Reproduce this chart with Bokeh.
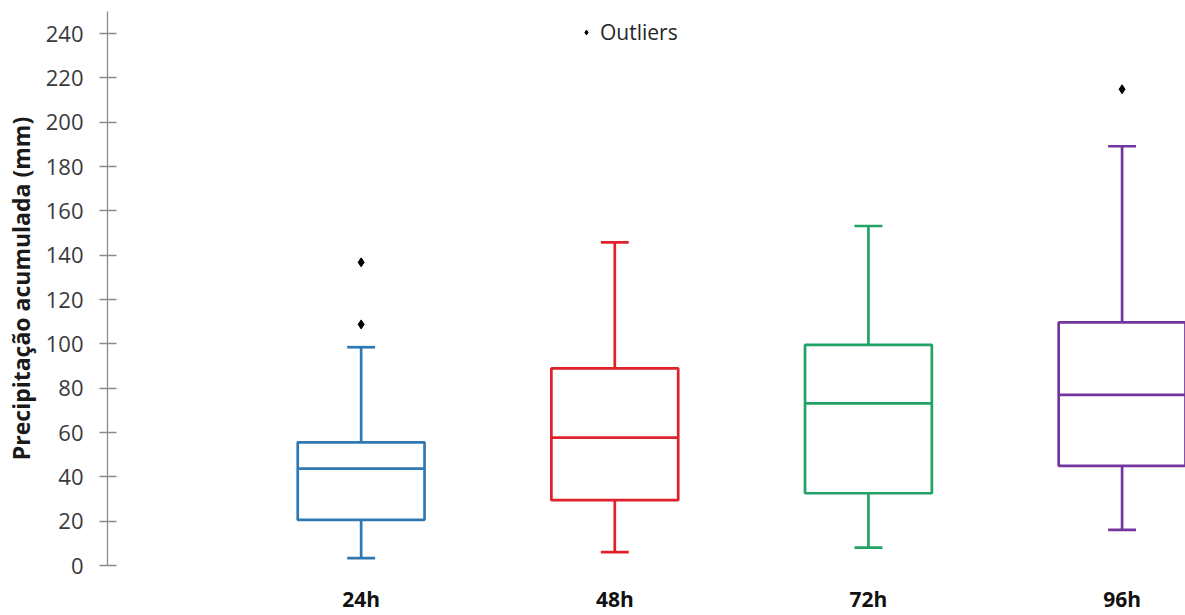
from bokeh.plotting import figure
from bokeh.models import FixedTicker, Legend, LegendItem, ColumnDataSource
from bokeh.embed import file_html
from bokeh.resources import INLINE

categories = ["24h", "48h", "72h", "96h"]
lower_whisker = [3.3, 6.0, 8.1, 16.1]
q1 = [20.6, 29.5, 32.6, 45.0]
median = [43.7, 57.7, 73.2, 77.0]
q3 = [55.6, 89.0, 99.6, 109.7]
upper_whisker = [98.5, 145.8, 153.2, 189.2]
outlier_group = ["24h", "24h", "96h"]
outlier_values = [136.8, 108.8, 214.9]
colors = ["#2E78B4", "#E0202A", "#21A366", "#7336A0"]
y_ticks = list(range(0, 241, 20))

FONT = "Open Sans"
pos = [i + 1 for i in range(len(categories))]
box_half = 0.25
cap_half = 0.055

p = figure(width=1185, height=615, x_range=(0, 4.25), y_range=(0, 250),
           output_backend="svg", toolbar_location=None,
           min_border_left=107, min_border_right=0, min_border_top=11, min_border_bottom=49)
p.outline_line_color = None
p.xgrid.grid_line_color = None
p.ygrid.grid_line_color = None
p.background_fill_color = "white"

src = ColumnDataSource(dict(
    x=pos, left=[x - box_half for x in pos], right=[x + box_half for x in pos],
    cl=[x - cap_half for x in pos], cr=[x + cap_half for x in pos],
    lo=lower_whisker, q1=q1, med=median, q3=q3, hi=upper_whisker, color=colors))

lw = 2.7
p.segment(x0="x", y0="q3", x1="x", y1="hi", line_color="color", line_width=lw, source=src)
p.segment(x0="x", y0="q1", x1="x", y1="lo", line_color="color", line_width=lw, source=src)
p.segment(x0="cl", y0="hi", x1="cr", y1="hi", line_color="color", line_width=lw, source=src)
p.segment(x0="cl", y0="lo", x1="cr", y1="lo", line_color="color", line_width=lw, source=src)
p.quad(left="left", right="right", bottom="q1", top="q3", fill_color="white",
       line_color="color", line_width=lw, source=src)
p.segment(x0="left", y0="med", x1="right", y1="med", line_color="color", line_width=lw, source=src)

ox = [pos[categories.index(g)] for g in outlier_group]
out_r = p.scatter(ox, outlier_values, marker="diamond", size=9, color="black")

legend = Legend(items=[LegendItem(label="Outliers", renderers=[out_r])],
                location=(473, 519), border_line_color=None, background_fill_alpha=0,
                padding=0, margin=0, spacing=0, glyph_width=12, glyph_height=20,
                label_standoff=8, label_text_font=FONT, label_text_font_size="21px",
                label_text_color="#262626", label_height=20)
p.add_layout(legend)

# y axis
ya = p.yaxis[0]
ya.ticker = FixedTicker(ticks=y_ticks)
ya.axis_line_color = "#8C8C8C"
ya.axis_line_width = 1.3
ya.major_tick_line_color = "#8C8C8C"
ya.major_tick_line_width = 1.3
ya.major_tick_in = 9
ya.major_tick_out = 8
ya.minor_tick_line_color = None
ya.major_label_standoff = 16
ya.major_label_text_font = FONT
ya.major_label_text_font_size = "22px"
ya.major_label_text_color = "#3A3A3A"
ya.axis_label = "Precipitação acumulada (mm)"
ya.axis_label_text_font = FONT
ya.axis_label_text_font_style = "bold"
ya.axis_label_text_font_size = "23px"
ya.axis_label_text_color = "#1A1A1A"
ya.axis_label_standoff = 6

# x axis
xa = p.xaxis[0]
xa.ticker = FixedTicker(ticks=pos)
xa.major_label_overrides = {x: c for x, c in zip(pos, categories)}
xa.axis_line_color = None
xa.major_tick_line_color = None
xa.minor_tick_line_color = None
xa.major_tick_in = 0
xa.major_tick_out = 0
xa.major_label_standoff = 19
xa.major_label_text_font = FONT
xa.major_label_text_font_style = "bold"
xa.major_label_text_font_size = "21px"
xa.major_label_text_color = "#111111"

open("out.html", "w").write(file_html(p, INLINE))
